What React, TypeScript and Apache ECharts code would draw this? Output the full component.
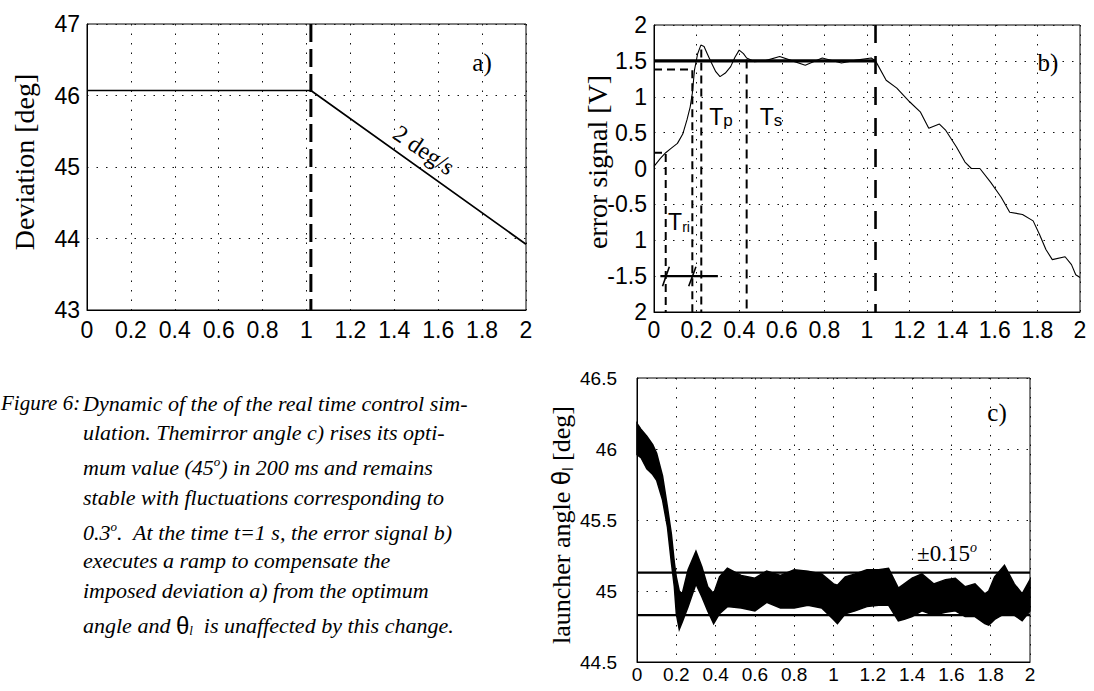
import React, { useEffect, useRef } from "react";
import * as echarts from "echarts";

// ---------- tick labels ----------
const X_TICK_LABELS = ["0", "0.2", "0.4", "0.6", "0.8", "1", "1.2", "1.4", "1.6", "1.8", "2"];
const A_Y_TICK_LABELS = ["43", "44", "45", "46", "47"];
// bottom -> top, as printed in the scanned figure
const B_Y_TICK_LABELS = ["2", "-1.5", "1", "-0.5", "0", "0.5", "1", "1.5", "2"];
const C_Y_TICK_LABELS = ["44.5", "45", "45.5", "46", "46.5"];

// ---------- a) imposed deviation ----------
const A_TIME = [0, 1.02, 2];
const A_DEVIATION = [46.07, 46.07, 43.92];
const A_STEP_LINE = [[1.02, 47], [1.02, 43]];

// ---------- b) error signal ----------
const B_TIME = [0, 0.03, 0.055, 0.08, 0.11, 0.135, 0.155, 0.17, 0.18, 0.19, 0.205, 0.22, 0.235, 0.25, 0.27, 0.29, 0.31, 0.335, 0.36, 0.38, 0.4, 0.42, 0.435, 0.47, 0.52, 0.59, 0.65, 0.71, 0.79, 0.88, 0.95, 1.02, 1.04, 1.09, 1.14, 1.2, 1.25, 1.29, 1.34, 1.37, 1.42, 1.46, 1.49, 1.53, 1.58, 1.63, 1.67, 1.73, 1.78, 1.81, 1.84, 1.87, 1.93, 1.96, 1.98, 2.0];
const B_ERROR = [0.03, 0.14, 0.22, 0.28, 0.35, 0.48, 0.68, 0.86, 1.05, 1.37, 1.6, 1.72, 1.7, 1.6, 1.47, 1.35, 1.28, 1.33, 1.42, 1.55, 1.65, 1.6, 1.54, 1.49, 1.5, 1.56, 1.5, 1.44, 1.54, 1.47, 1.51, 1.54, 1.5, 1.23, 1.12, 0.93, 0.79, 0.56, 0.62, 0.53, 0.3, 0.09, 0.0, 0.0, -0.19, -0.4, -0.61, -0.64, -0.73, -0.92, -1.13, -1.27, -1.23, -1.34, -1.48, -1.52];
const B_SETPOINT = [[0, 1.5], [1.04, 1.5]];
const B_TR_START = [[0, 0.22], [0.055, 0.22], [0.055, -2]];
const B_TR_END = [[0, 1.38], [0.18, 1.38], [0.18, -2]];
const B_TP = [[0.222, 1.66], [0.222, -2]];
const B_TS = [[0.435, 1.52], [0.435, -2]];
const B_STEP_LINE = [[1.04, 2], [1.04, -2]];
const B_ARROW = [[0.03, -1.5], [0.3, -1.5]];
const B_ARROW_MARK_1 = [[0.04, -1.64], [0.072, -1.37]];
const B_ARROW_MARK_2 = [[0.163, -1.64], [0.197, -1.37]];

// ---------- c) launcher angle (envelope of the noisy trace) ----------
const C_TIME = [0, 0.02, 0.05, 0.08, 0.1, 0.13, 0.155, 0.175, 0.19, 0.2, 0.215, 0.23, 0.26, 0.3, 0.33, 0.36, 0.39, 0.42, 0.46, 0.53, 0.6, 0.66, 0.73, 0.8, 0.87, 0.94, 1.0, 1.02, 1.06, 1.11, 1.17, 1.23, 1.28, 1.33, 1.36, 1.4, 1.45, 1.51, 1.57, 1.62, 1.67, 1.72, 1.77, 1.79, 1.82, 1.87, 1.92, 1.96, 2.0];
const C_UPPER = [46.18, 46.14, 46.09, 46.03, 45.97, 45.81, 45.59, 45.4, 45.2, 45.1, 45.0, 44.98, 45.15, 45.28, 45.17, 45.03, 44.98, 45.1, 45.16, 45.11, 45.09, 45.14, 45.11, 45.15, 45.14, 45.12, 45.05, 45.04, 45.1, 45.12, 45.15, 45.15, 45.16, 45.02, 45.05, 45.09, 45.12, 45.05, 45.08, 45.09, 45.03, 45.05, 44.98, 45.0, 45.1, 45.18, 45.05, 44.98, 45.08];
const C_LOWER = [45.96, 45.94, 45.86, 45.82, 45.78, 45.64, 45.45, 45.2, 45.03, 44.84, 44.73, 44.78, 44.89, 45.05, 44.96, 44.86, 44.77, 44.84, 44.89, 44.88, 44.86, 44.92, 44.88, 44.88, 44.9, 44.88, 44.8, 44.77, 44.84, 44.86, 44.89, 44.9, 44.9, 44.79, 44.8, 44.82, 44.86, 44.83, 44.85, 44.86, 44.82, 44.82, 44.77, 44.76, 44.8, 44.84, 44.83, 44.79, 44.86];
const C_BAND_HIGH = [[0, 45.13], [2, 45.13]];
const C_BAND_LOW = [[0, 44.83], [2, 44.83]];

// ---------- caption ----------
const CAPTION_LINES = [
  "Dynamic of the of the real time control sim-",
  "ulation. Themirror angle c) rises its opti-",
  "mum value (45{sup|o}) in 200 ms and remains",
  "stable with fluctuations corresponding to",
  "0.3{sup|o}.  At the time t=1 s, the error signal b)",
  "executes a ramp to compensate the",
  "imposed deviation a) from the optimum",
  "angle and {th|θ}{sub|l}  is unaffected by this change.",
];
const CAPTION_Y = [403, 432, 467, 497, 532, 560, 590, 625];

// ---------- layout ----------
const GA = { left: 87, top: 24, width: 439, height: 286 };
const GB = { left: 654, top: 25, width: 426, height: 287 };
const GC = { left: 637, top: 378, width: 393, height: 284 };

const SERIF = "'Liberation Serif', 'Times New Roman', serif";
const SANS = "'Liberation Sans', Arial, sans-serif";
const GRID_DOT: any = [1.5, 8];

function xAxisCfg(gridIndex: number, fontSize: number, margin: number) {
  return {
    type: "value",
    gridIndex,
    min: 0,
    max: 2,
    interval: 0.2,
    axisLine: { show: true, onZero: false, lineStyle: { color: "#000", width: 1 } },
    axisTick: { show: false },
    splitLine: { show: true, lineStyle: { color: "#111", type: GRID_DOT, width: 1 } },
    axisLabel: {
      color: "#000",
      fontSize,
      fontFamily: SANS,
      margin,
      formatter: (_v: number, i: number) => X_TICK_LABELS[i],
    },
  };
}

function yAxisCfg(gridIndex: number, min: number, max: number, interval: number, labels: string[], fontSize: number, margin: number) {
  return {
    type: "value",
    gridIndex,
    min,
    max,
    interval,
    axisLine: { show: true, onZero: false, lineStyle: { color: "#000", width: 1 } },
    axisTick: { show: false },
    splitLine: { show: true, lineStyle: { color: "#111", type: GRID_DOT, width: 1 } },
    axisLabel: {
      color: "#000",
      fontSize,
      fontFamily: SANS,
      margin,
      formatter: (_v: number, i: number) => labels[i],
    },
  };
}

function seg(data: number[][], xi: number, width: number, type: any, z = 3) {
  return {
    type: "line",
    xAxisIndex: xi,
    yAxisIndex: xi,
    data,
    symbol: "none",
    silent: true,
    z,
    lineStyle: { color: "#000", width, type },
  };
}

export default function App() {
  const ref = useRef<HTMLDivElement>(null);

  useEffect(() => {
    if (!ref.current) return;
    const chart = echarts.init(ref.current, undefined, { renderer: "svg" });

    const captionGraphics = CAPTION_LINES.map((t, i) => ({
      type: "text",
      x: 83,
      y: CAPTION_Y[i],
      style: {
        text: t,
        fill: "#000",
        font: `italic 22px ${SERIF}`,
        textAlign: "left",
        textVerticalAlign: "middle",
        rich: {
          sup: { fontSize: 13, fontStyle: "italic", fontFamily: SERIF, verticalAlign: "top", lineHeight: 24, padding: [0, 0, 9, 0] },
          th: { fontSize: 24, fontStyle: "normal", fontFamily: SANS, lineHeight: 24 },
          sub: { fontSize: 13, fontStyle: "italic", fontFamily: SERIF, verticalAlign: "bottom", lineHeight: 24, padding: [9, 0, 0, 0] },
        },
      },
    }));

    const option: any = {
      animation: false,
      backgroundColor: "#fff",
      grid: [
        { ...GA, show: true, borderColor: "#000", borderWidth: 1, containLabel: false },
        { ...GB, show: true, borderColor: "#000", borderWidth: 1, containLabel: false },
        { ...GC, show: true, borderColor: "#000", borderWidth: 1, containLabel: false },
      ],
      xAxis: [xAxisCfg(0, 23, 8), xAxisCfg(1, 23, 6), xAxisCfg(2, 19, 3)],
      yAxis: [
        yAxisCfg(0, 43, 47, 1, A_Y_TICK_LABELS, 23, 7),
        yAxisCfg(1, -2, 2, 0.5, B_Y_TICK_LABELS, 23, 7),
        yAxisCfg(2, 44.5, 46.5, 0.5, C_Y_TICK_LABELS, 19, 20),
      ],
      series: [
        // a)
        {
          type: "line",
          xAxisIndex: 0,
          yAxisIndex: 0,
          data: A_TIME.map((t, i) => [t, A_DEVIATION[i]]),
          symbol: "none",
          lineStyle: { color: "#000", width: 1.7 },
          z: 4,
        },
        seg(A_STEP_LINE, 0, 3, [18, 7], 5),
        // b)
        seg(B_SETPOINT, 1, 3.2, "solid", 4),
        {
          type: "line",
          xAxisIndex: 1,
          yAxisIndex: 1,
          data: B_TIME.map((t, i) => [t, B_ERROR[i]]),
          symbol: "none",
          lineStyle: { color: "#000", width: 1.1 },
          z: 5,
        },
        seg(B_TR_START, 1, 2, [8, 5]),
        seg(B_TR_END, 1, 2, [8, 5]),
        seg(B_TP, 1, 2, [8, 5]),
        seg(B_TS, 1, 2, [9, 6]),
        seg(B_STEP_LINE, 1, 2.6, [18, 13], 5),
        seg(B_ARROW, 1, 2.2, "solid"),
        seg(B_ARROW_MARK_1, 1, 1.6, "solid"),
        seg(B_ARROW_MARK_2, 1, 1.6, "solid"),
        // c)
        {
          type: "custom",
          xAxisIndex: 2,
          yAxisIndex: 2,
          data: [[1, 45]],
          encode: { x: 0, y: 1 },
          silent: true,
          z: 3,
          renderItem: (_params: any, api: any) => {
            const pts: number[][] = [];
            for (let i = 0; i < C_TIME.length; i++) pts.push(api.coord([C_TIME[i], C_UPPER[i]]));
            for (let i = C_TIME.length - 1; i >= 0; i--) pts.push(api.coord([C_TIME[i], C_LOWER[i]]));
            return {
              type: "polygon",
              shape: { points: pts },
              style: { fill: "#000", stroke: "#000", lineWidth: 1.5 },
            };
          },
        },
        seg(C_BAND_HIGH, 2, 2.2, "solid", 4),
        seg(C_BAND_LOW, 2, 2.2, "solid", 4),
      ],
      graphic: [
        // axis titles
        {
          type: "text",
          x: 24,
          y: 162,
          rotation: Math.PI / 2,
          style: { text: "Deviation [deg]", fill: "#000", font: `28px ${SERIF}`, textAlign: "center", textVerticalAlign: "middle" },
        },
        {
          type: "text",
          x: 597,
          y: 162,
          rotation: Math.PI / 2,
          style: { text: "error signal [V]", fill: "#000", font: `28px ${SERIF}`, textAlign: "center", textVerticalAlign: "middle" },
        },
        {
          type: "text",
          x: 561,
          y: 525,
          rotation: Math.PI / 2,
          style: {
            text: "launcher angle {th|θ}{sub|l} [deg]",
            fill: "#000",
            font: `26px ${SERIF}`,
            textAlign: "center",
            textVerticalAlign: "middle",
            rich: {
              th: { fontSize: 26, fontFamily: SANS, lineHeight: 28 },
              sub: { fontSize: 15, fontFamily: SANS, verticalAlign: "bottom", lineHeight: 28, padding: [10, 0, 0, 0] },
            },
          },
        },
        // panel labels
        { type: "text", x: 482, y: 62, style: { text: "a)", fill: "#000", font: `25px ${SERIF}`, textAlign: "center", textVerticalAlign: "middle" } },
        { type: "text", x: 1048, y: 62, style: { text: "b)", fill: "#000", font: `25px ${SERIF}`, textAlign: "center", textVerticalAlign: "middle" } },
        { type: "text", x: 997, y: 412, style: { text: "c)", fill: "#000", font: `25px ${SERIF}`, textAlign: "center", textVerticalAlign: "middle" } },
        {
          type: "text",
          x: 424,
          y: 150,
          rotation: -0.6,
          style: { text: "2 deg/s", fill: "#000", font: `24px ${SERIF}`, textAlign: "center", textVerticalAlign: "middle" },
        },
        {
          type: "text",
          x: 679,
          y: 222,
          style: {
            text: "T{sub|ri}",
            fill: "#000",
            font: `23px ${SANS}`,
            textAlign: "center",
            textVerticalAlign: "middle",
            rich: { sub: { fontSize: 14, fontFamily: SANS, verticalAlign: "bottom", lineHeight: 24, padding: [8, 0, 0, 0] } },
          },
        },
        {
          type: "text",
          x: 721,
          y: 117,
          style: {
            text: "T{sub|p}",
            fill: "#000",
            font: `23px ${SANS}`,
            textAlign: "center",
            textVerticalAlign: "middle",
            rich: { sub: { fontSize: 17, fontFamily: SANS, verticalAlign: "bottom", lineHeight: 24, padding: [8, 0, 0, 0] } },
          },
        },
        {
          type: "text",
          x: 771,
          y: 117,
          style: {
            text: "T{sub|s}",
            fill: "#000",
            font: `23px ${SANS}`,
            textAlign: "center",
            textVerticalAlign: "middle",
            rich: { sub: { fontSize: 17, fontFamily: SANS, verticalAlign: "bottom", lineHeight: 24, padding: [8, 0, 0, 0] } },
          },
        },
        {
          type: "text",
          x: 947,
          y: 553,
          style: {
            text: "±0.15{sup|o}",
            fill: "#000",
            font: `23px ${SERIF}`,
            textAlign: "center",
            textVerticalAlign: "middle",
            rich: { sup: { fontSize: 14, fontStyle: "italic", fontFamily: SERIF, verticalAlign: "top", lineHeight: 26, padding: [0, 0, 10, 0] } },
          },
        },
        // caption
        {
          type: "text",
          x: 1,
          y: CAPTION_Y[0],
          style: { text: "Figure 6:", fill: "#000", font: `italic 21px ${SERIF}`, textAlign: "left", textVerticalAlign: "middle" },
        },
        ...captionGraphics,
      ],
    };

    chart.setOption(option);
    return () => chart.dispose();
  }, []);

  return (
    <div
      ref={ref}
      style={{ position: "absolute", left: 0, top: 0, width: 1094, height: 691, background: "#fff" }}
    />
  );
}
